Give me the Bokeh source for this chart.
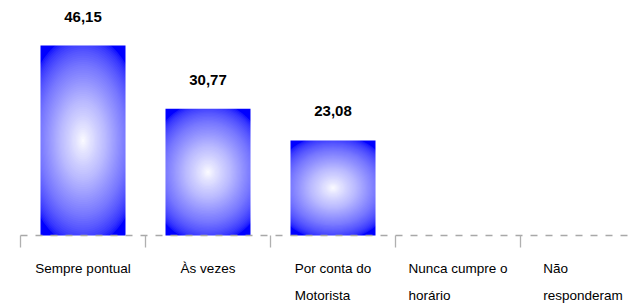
import numpy as np
from bokeh.plotting import figure
from bokeh.models import ColumnDataSource, Range1d
from bokeh.core.properties import value
from bokeh.embed import file_html
from bokeh.resources import INLINE

# ---- data ----
categories = ["Sempre pontual", "Às vezes", "Por conta do Motorista",
              "Nunca cumpre o horário", "Não responderam"]
label_lines = [["Sempre pontual"], ["Às vezes"], ["Por conta do", "Motorista"],
               ["Nunca cumpre o", "horário"], ["Não", "responderam"]]
values = [46.15, 30.77, 23.08, 0.0, 0.0]

# ---- style ----
W, H = 628, 303
LEFT_PX = 20.0      # canvas x of first category boundary
BASE_PX = 235.0     # canvas y of baseline
BAR_W = 0.68
BLUE = "#0000ff"
FONT = "Liberation Sans"
CAT_FS = 13.5
VAL_FS = 15

# Arial / Liberation Sans advance widths (per 1000 em)
ARIAL_W = {" ": 278, "a": 556, "c": 500, "d": 556, "e": 556, "h": 556, "i": 222,
           "l": 222, "m": 833, "n": 556, "o": 556, "p": 556, "r": 333, "s": 500,
           "t": 278, "u": 556, "v": 500, "z": 500, "á": 556, "ã": 556, "S": 667,
           "À": 667, "P": 667, "M": 833, "N": 722}


def text_w(s, fs):
    return sum(ARIAL_W.get(ch, 556) for ch in s) / 1000.0 * fs


n = len(categories)
centers = [i + 0.5 for i in range(n)]

px_x = 125.0
px_y = 190.0 / max(values)
x_start = -LEFT_PX / px_x
x_end = x_start + W / px_x
y_top = BASE_PX / px_y
y_bot = -(H - BASE_PX) / px_y

p = figure(width=W, height=H, output_backend="svg", toolbar_location=None,
           x_range=Range1d(x_start, x_end), y_range=Range1d(y_bot, y_top),
           x_axis_type=None, y_axis_type=None, min_border=0)
p.outline_line_color = None
p.xgrid.visible = False
p.ygrid.visible = False
p.background_fill_color = "white"
p.border_fill_color = "white"

# bars (base colour)
bar_idx = [i for i, v in enumerate(values) if v > 0]
bar_src = ColumnDataSource(dict(x=[centers[i] for i in bar_idx],
                                top=[values[i] for i in bar_idx]))
p.vbar(x="x", top="top", bottom=0, width=BAR_W, source=bar_src,
       fill_color=BLUE, line_color=None)

# radial gradient imitation: stacked white ellipses with varying alpha
N = 50
KX, KY = 1.45, 1.12
POW = 0.6
W0 = 0.98
ks = np.linspace(1.0, 1.0 / N, N)
step = 1.0 / N
ex, ey, ew, eh, ea = [], [], [], [], []
for i in bar_idx:
    v = values[i]
    prev = 0.0
    for k in ks:
        r = max(k - step, 0.0)
        w = W0 * (1 - r) ** POW
        a = 1 - (1 - w) / (1 - prev)
        prev = w
        ex.append(centers[i]); ey.append(v / 2.0)
        ew.append(BAR_W * KX * k); eh.append(v * KY * k)
        ea.append(max(min(a, 1.0), 0.0))
p.ellipse(x=ex, y=ey, width=ew, height=eh, fill_color="white",
          fill_alpha=ea, line_color=None)

# dashed baseline and ticks at category boundaries
p.line(x=[0, n], y=[0, 0], line_color="#a8a8a8", line_width=1.3,
       line_dash="7 8")
p.ray(x=list(range(n + 1)), y=[0] * (n + 1), length=12, length_units="screen",
      angle=-np.pi / 2, line_color="#b0b0b0", line_width=1.3)

# value labels
lab_src = ColumnDataSource(dict(x=[centers[i] for i in bar_idx],
                                y=[values[i] for i in bar_idx],
                                t=[f"{values[i]:.2f}".replace(".", ",") for i in bar_idx]))
p.text(x="x", y="y", text="t", source=lab_src, y_offset=-29,
       text_align="center", text_baseline="middle", text_font=value(FONT),
       text_font_size=f"{VAL_FS}px", text_font_style="bold", text_color="#000000")

# category labels (block centred, lines left aligned)
LINE_Y = [33, 60]
for li in range(2):
    xs, offs, ts = [], [], []
    for i, lines in enumerate(label_lines):
        if li < len(lines):
            bw = max(text_w(s, CAT_FS) for s in lines)
            xs.append(centers[i]); offs.append(-bw / 2.0); ts.append(lines[li])
    p.text(x=xs, y=[0] * len(xs), text=ts, x_offset=offs, y_offset=LINE_Y[li],
           text_align="left", text_baseline="middle", text_font=value(FONT),
           text_font_size=f"{CAT_FS}px", text_color="#000000")

open("out.html", "w").write(file_html(p, INLINE))
